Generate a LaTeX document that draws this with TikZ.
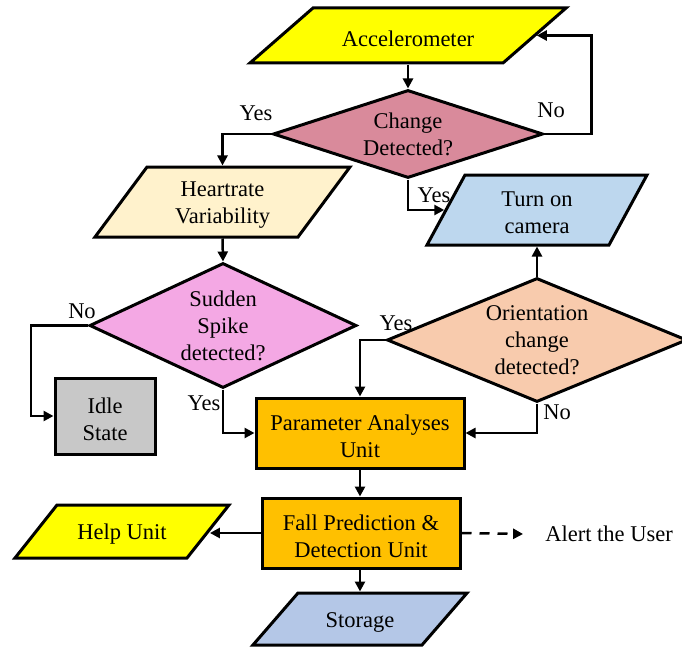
\documentclass[tikz,border=0pt]{standalone}
\usepackage{fontspec}
\setmainfont{Liberation Serif}
\usepackage{tikz}
\usetikzlibrary{arrows.meta, shapes.geometric, calc}

\definecolor{accyellow}{HTML}{FFFF00}
\definecolor{chgpink}{HTML}{D98A9B}
\definecolor{hrvcream}{HTML}{FFF2CC}
\definecolor{spkpink}{HTML}{F4A8E4}
\definecolor{idlegray}{HTML}{C8C8C8}
\definecolor{unitorange}{HTML}{FFC000}
\definecolor{camblue}{HTML}{BDD7EE}
\definecolor{oripeach}{HTML}{F8CBAD}
\definecolor{stoblue}{HTML}{B4C7E7}

% text block of a given width and height, centred both ways (a little low)
\newcommand{\iobody}[3]{\parbox[c][#2][c]{#1}{\centering\vspace*{6pt}#3}}

\tikzset{
    unitbox/.style={draw, line width=3pt, rectangle, inner sep=0pt},
    decision/.style={draw, line width=3pt, diamond, inner sep=0pt},
    iobox/.style={draw, line width=3pt, trapezium, inner sep=0pt},
    flow/.style={line width=2.5pt, -{Triangle[length=10pt,width=10pt]}},
    tag/.style={inner sep=0pt},
}

\begin{document}
\begin{tikzpicture}[x=1pt, y=-1pt, font=\fontsize{22.5pt}{27pt}\selectfont]
            \useasboundingbox (0,0) rectangle (682,650);

            % inputs and outputs
            \node[iobox, fill=accyellow, trapezium left angle=41.1, trapezium right angle=138.9] (acc) at (408,35.5)
                {\iobody{190pt}{55pt}{Accelerometer}};
            \node[iobox, fill=hrvcream, trapezium left angle=53.4, trapezium right angle=126.6] (hrv) at (222.5,202)
                {\iobody{151pt}{70pt}{Heartrate\\Variability}};
            \node[iobox, fill=camblue, trapezium left angle=61.5, trapezium right angle=118.5] (cam) at (537,210)
                {\iobody{144pt}{70pt}{Turn on\\camera}};
            \node[iobox, fill=accyellow, trapezium left angle=51.6, trapezium right angle=128.4] (help) at (122,531.5)
                {\iobody{130pt}{53pt}{Help Unit}};
            \node[iobox, fill=stoblue, trapezium left angle=49.1, trapezium right angle=130.9] (sto) at (360,619)
                {\iobody{124pt}{52pt}{Storage}};

            % decisions
            \node[decision, fill=chgpink, aspect=3.07, minimum width=270pt, minimum height=88pt] (chg) at (408,134)
                {\iobody{130pt}{0pt}{Change\\Detected?}};
            \node[decision, fill=spkpink, aspect=2.14, minimum width=267pt, minimum height=125pt] (spk) at (223,325.5)
                {\iobody{130pt}{0pt}{Sudden\\Spike\\detected?}};
            \node[decision, fill=oripeach, aspect=2.42, minimum width=300pt, minimum height=124pt] (ori) at (537,340)
                {\iobody{130pt}{0pt}{Orientation\\change\\detected?}};

            % units
            \node[unitbox, fill=idlegray] (idle) at (105,416) {\iobody{100pt}{76pt}{Idle\\State}};
            \node[unitbox, fill=unitorange] (par) at (360,433) {\iobody{208pt}{70pt}{Parameter Analyses\\Unit}};
            \node[unitbox, fill=unitorange] (fall) at (361,533) {\iobody{198pt}{70pt}{Fall Prediction \&\\Detection Unit}};
            \node[tag] (alert) at (609,534) {Alert the User};

            % yes / no
            \node[tag] (yesA) at (256,113) {Yes};
            \node[tag] (noA) at (551,110) {No};
            \node[tag] (yesB) at (434,195) {Yes};
            \node[tag] (noB) at (82,311) {No};
            \node[tag] (yesC) at (204,403) {Yes};
            \node[tag] (yesD) at (396,323) {Yes};
            \node[tag] (noC) at (557,412) {No};

            \draw[flow] (acc.south) -- (chg.north);
            \draw[flow] (chg.west) -| (hrv.north);
            \draw[flow] (chg.east) -- ++(47,0) |- (acc.east);
            \draw[flow] (chg.south) |- (cam.west);
            \draw[flow] (hrv.south) -- (spk.north);
            \draw[flow] (spk.west) -- ++(-57,0) |- (idle.west);
            \draw[flow] (spk.south) |- (par.west);
            \draw[flow] (ori.north) -- (ori.north |- cam.south);
            \draw[flow] (ori.west) -| (par.north);
            \draw[flow] (ori.south) |- (par.east);
            \draw[flow] (par.south) -- (par.south |- fall.north);
            \draw[flow] (fall.west) -- (fall.west -| help.east);
            \draw[flow, dash pattern=on 10pt off 8pt] (fall.east) -- ([xshift=-22pt]alert.west);
            \draw[flow] (sto.north |- fall.south) -- (sto.north);
        \end{tikzpicture}
\end{document}
